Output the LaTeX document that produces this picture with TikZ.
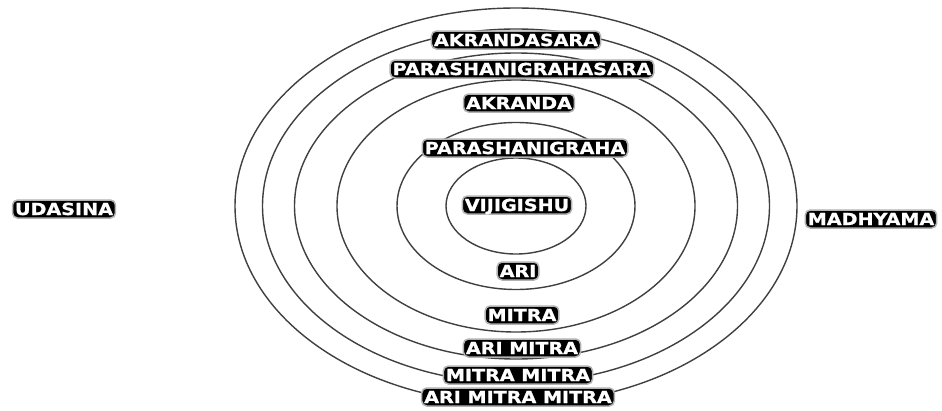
\documentclass[tikz,border=0pt]{standalone}
\usepackage{fontspec}
\newfontfamily\lblfont[FakeStretch=1.16,FakeBold=1.2]{DejaVu Sans Bold}
\begin{document}
\begin{tikzpicture}[x=1pt,y=-1pt,
  ring/.style={draw=black!75,line width=1.4pt},
  lbl/.style={font=\lblfont\fontsize{16.5}{17}\selectfont,text=white,
    fill=black,draw=black!30,line width=1.5pt,rounded corners=5pt,
    text height=12pt,text depth=0pt,inner xsep=2.5pt,inner ysep=3pt,anchor=center}]
\useasboundingbox (0,0) rectangle (942,410);
\fill[white] (0,0) rectangle (942,410);
\coordinate (c) at (516,206);
\draw[ring] (c) ellipse [x radius=70, y radius=48];
\draw[ring] (c) ellipse [x radius=119, y radius=83.5];
\draw[ring] (c) ellipse [x radius=179, y radius=126];
\draw[ring] (c) ellipse [x radius=221.5, y radius=153];
\draw[ring] (c) ellipse [x radius=253.5, y radius=177];
\draw[ring] (c) ellipse [x radius=281, y radius=198];
\node[lbl] (akrandasara) at (516,40) {AKRANDASARA};
\node[lbl] (parasara) at (522,69) {PARASHANIGRAHASARA};
\node[lbl] (akranda) at (519,103) {AKRANDA};
\node[lbl] (parashani) at (525,148) {PARASHANIGRAHA};
\node[lbl] (vijigishu) at (517,205) {VIJIGISHU};
\node[lbl] (ari) at (518,271) {ARI};
\node[lbl] (mitra) at (522,315) {MITRA};
\node[lbl] (arimitra) at (522,348) {ARI MITRA};
\node[lbl] (mitramitra) at (518,375) {MITRA MITRA};
\node[lbl] (arimitramitra) at (518,397) {ARI MITRA MITRA};
\node[lbl] (udasina) at (64,209) {UDASINA};
\node[lbl] (madhyama) at (871,219) {MADHYAMA};
\end{tikzpicture}
\end{document}
